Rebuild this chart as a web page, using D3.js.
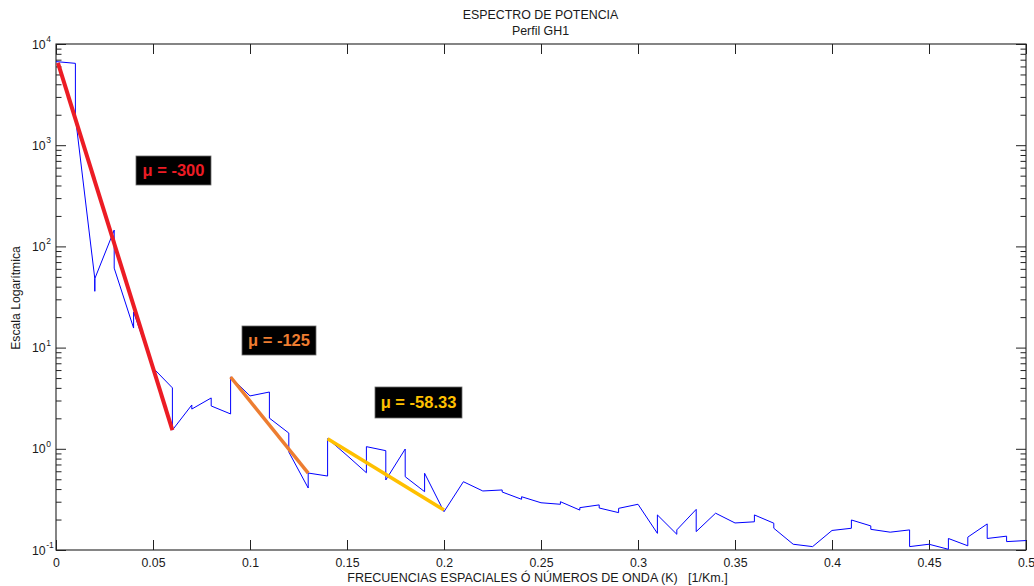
<!DOCTYPE html>
<html><head><meta charset="utf-8">
<script src="https://cdn.jsdelivr.net/npm/d3@7"></script>
<style>
body{margin:0;background:#fff}
svg{display:block}
text{font-family:"Liberation Sans",Arial,sans-serif;fill:#1a1a1a}
</style>
</head><body>
<svg id="c" width="1034" height="586"></svg>
<script>
// ---- data ----
const freq = [0,
  0.01,0.01, 0.02,0.02,0.02, 0.03,0.03, 0.04,0.04, 0.05,
  0.06,0.06, 0.07,0.07, 0.08,0.08, 0.09,0.09, 0.10,
  0.11,0.11, 0.12,0.12, 0.13,0.13, 0.14,0.14, 0.15,
  0.16,0.16, 0.17,0.17, 0.18,0.18, 0.19,0.19, 0.20,
  0.21, 0.22, 0.23,0.23, 0.24,0.24, 0.25,
  0.26,0.26, 0.27,0.27, 0.28,0.28, 0.29,0.29, 0.30,
  0.31,0.31, 0.32,0.32, 0.33,0.33, 0.34, 0.35,
  0.36,0.36, 0.37,0.37, 0.38, 0.39, 0.40,
  0.41,0.41, 0.42,0.42, 0.43, 0.44,0.44, 0.45,
  0.46,0.46, 0.47,0.47, 0.48,0.48, 0.49,0.49, 0.50];
const power = [6700,
  6440,1900, 48,36,48, 145,61, 15.6,22.5, 6.3,
  4.0,1.53, 2.71,2.47, 3.18,2.65, 2.21,5.12, 3.33,
  3.64,2.01, 1.43,0.93, 0.41,0.576, 0.538,1.26, 0.86,
  0.58,1.05, 0.958,0.492, 0.995,0.53, 0.377,0.573, 0.239,
  0.473, 0.383, 0.392,0.374, 0.317,0.336, 0.293,
  0.283,0.300, 0.248,0.262, 0.279,0.260, 0.234,0.258, 0.283,
  0.146,0.222, 0.143,0.158, 0.252,0.152, 0.231, 0.185,
  0.190,0.222, 0.184,0.164, 0.114, 0.108, 0.156,
  0.164,0.198, 0.173,0.160, 0.150, 0.158,0.108, 0.114,
  0.1016,0.130, 0.110,0.134, 0.181,0.130, 0.137,0.121, 0.124];

const xTicks = [0,0.05,0.1,0.15,0.2,0.25,0.3,0.35,0.4,0.45,0.5];
const xTickLabels = ["0","0.05","0.1","0.15","0.2","0.25","0.3","0.35","0.4","0.45","0.5"];
const yExponents = [-1,0,1,2,3,4];

const fitStartK = [0.001, 0.09, 0.14];
const fitEndK   = [0.06, 0.13, 0.20];
const fitStartP = [6500, 5.12, 1.26];
const fitEndP   = [1.53, 0.576, 0.248];
const slopeLabels = ["\u03bc = -300", "\u03bc = -125", "\u03bc = -58.33"];

const titleLines = ["ESPECTRO DE POTENCIA", "Perfil GH1"];
const xTitle = "FRECUENCIAS ESPACIALES \u00d3 N\u00daMEROS DE ONDA (K)\u00a0\u00a0\u00a0[1/Km.]";
const yTitle = "Escala Logar\u00edtmica";

// ---- layout / style ----
const W = 1034, H = 586;
const M = {left:56, right:8, top:44, bottom:36};
const fitColors = ["#ec1c24", "#ed7d31", "#ffc000"];
const fitWidths = [4, 3.5, 3.5];
const boxes = [
  {x:136, y:156, w:75, h:29},
  {x:242, y:326, w:74, h:29},
  {x:375, y:387, w:87, h:31}
];

const svg = d3.select("#c");
const x = d3.scaleLinear().domain([0,0.5]).range([M.left, W - M.right]);
const y = d3.scaleLog().domain([0.1, 10000]).range([H - M.bottom, M.top]);

// minor log ticks
const minor = [];
yExponents.slice(0,-1).forEach(e => { for (let m = 2; m <= 9; m++) minor.push(m * Math.pow(10, e)); });
const major = yExponents.map(e => Math.pow(10, e));

const axColor = "#222";
// bottom axis
svg.append("g").attr("transform", `translate(0,${H - M.bottom})`).attr("color", axColor)
  .call(d3.axisBottom(x).tickValues(xTicks).tickFormat((d,i) => xTickLabels[i])
        .tickSizeInner(-10).tickSizeOuter(0).tickPadding(8))
  .call(g => g.select(".domain").remove())
  .call(g => g.selectAll("text").attr("font-size", 12.3).attr("font-family", null));
// top axis
svg.append("g").attr("transform", `translate(0,${M.top})`).attr("color", axColor)
  .call(d3.axisTop(x).tickValues(xTicks).tickFormat("").tickSizeInner(-10).tickSizeOuter(0))
  .call(g => g.select(".domain").remove());
// left axis major + minor
svg.append("g").attr("transform", `translate(${M.left},0)`).attr("color", axColor)
  .call(d3.axisLeft(y).tickValues(major).tickFormat("").tickSizeInner(-10).tickSizeOuter(0))
  .call(g => g.select(".domain").remove());
svg.append("g").attr("transform", `translate(${M.left},0)`).attr("color", axColor)
  .call(d3.axisLeft(y).tickValues(minor).tickFormat("").tickSizeInner(-5.5).tickSizeOuter(0))
  .call(g => g.select(".domain").remove());
// right axis major + minor
svg.append("g").attr("transform", `translate(${W - M.right},0)`).attr("color", axColor)
  .call(d3.axisRight(y).tickValues(major).tickFormat("").tickSizeInner(-10).tickSizeOuter(0))
  .call(g => g.select(".domain").remove());
svg.append("g").attr("transform", `translate(${W - M.right},0)`).attr("color", axColor)
  .call(d3.axisRight(y).tickValues(minor).tickFormat("").tickSizeInner(-5.5).tickSizeOuter(0))
  .call(g => g.select(".domain").remove());

// y tick labels 10^n
const yl = svg.append("g").selectAll("text").data(yExponents).join("text")
  .attr("x", 32).attr("y", e => y(Math.pow(10, e)) + 4.5).attr("font-size", 12.3);
yl.append("tspan").text("10");
yl.append("tspan").attr("font-size", 8.5).attr("dy", -6.5).attr("dx", 0.5).text(e => e);

// frame
svg.append("rect").attr("x", M.left).attr("y", M.top)
  .attr("width", W - M.left - M.right).attr("height", H - M.top - M.bottom)
  .attr("fill", "none").attr("stroke", axColor).attr("stroke-width", 1.1);

// spectrum line
const idx = d3.range(freq.length);
svg.append("path")
  .attr("d", d3.line().x(i => x(freq[i])).y(i => y(power[i]))(idx))
  .attr("fill", "none").attr("stroke", "#0000ff").attr("stroke-width", 1)
  .attr("stroke-linejoin", "miter");

// fitted segments
svg.append("g").selectAll("line").data(d3.range(fitStartK.length)).join("line")
  .attr("x1", i => x(fitStartK[i])).attr("y1", i => y(fitStartP[i]))
  .attr("x2", i => x(fitEndK[i])).attr("y2", i => y(fitEndP[i]))
  .attr("stroke", i => fitColors[i]).attr("stroke-width", i => fitWidths[i])
  .attr("stroke-linecap", "butt");

// slope annotations
const ann = svg.append("g").selectAll("g").data(d3.range(boxes.length)).join("g");
ann.append("rect").attr("x", i => boxes[i].x).attr("y", i => boxes[i].y)
  .attr("width", i => boxes[i].w).attr("height", i => boxes[i].h)
  .attr("fill", "#000").attr("stroke", "#6b6b6b").attr("stroke-width", 0.8);
ann.append("text").attr("x", i => boxes[i].x + boxes[i].w / 2)
  .attr("y", i => boxes[i].y + boxes[i].h / 2 + 5.5)
  .attr("text-anchor", "middle").attr("font-size", 16.5).attr("font-weight", "bold")
  .style("fill", i => fitColors[i]).text(i => slopeLabels[i]);

// titles
svg.append("text").attr("x", 540.5).attr("y", 18.5).attr("text-anchor", "middle")
  .attr("font-size", 12.4).text(titleLines[0]);
svg.append("text").attr("x", 540.5).attr("y", 35).attr("text-anchor", "middle")
  .attr("font-size", 12.4).text(titleLines[1]);
svg.append("text").attr("x", 537.5).attr("y", 582).attr("text-anchor", "middle")
  .attr("font-size", 12.5).text(xTitle);
svg.append("text").attr("transform", "translate(20,298) rotate(-90)")
  .attr("text-anchor", "middle").attr("font-size", 12.2).text(yTitle);
</script>
</body></html>
